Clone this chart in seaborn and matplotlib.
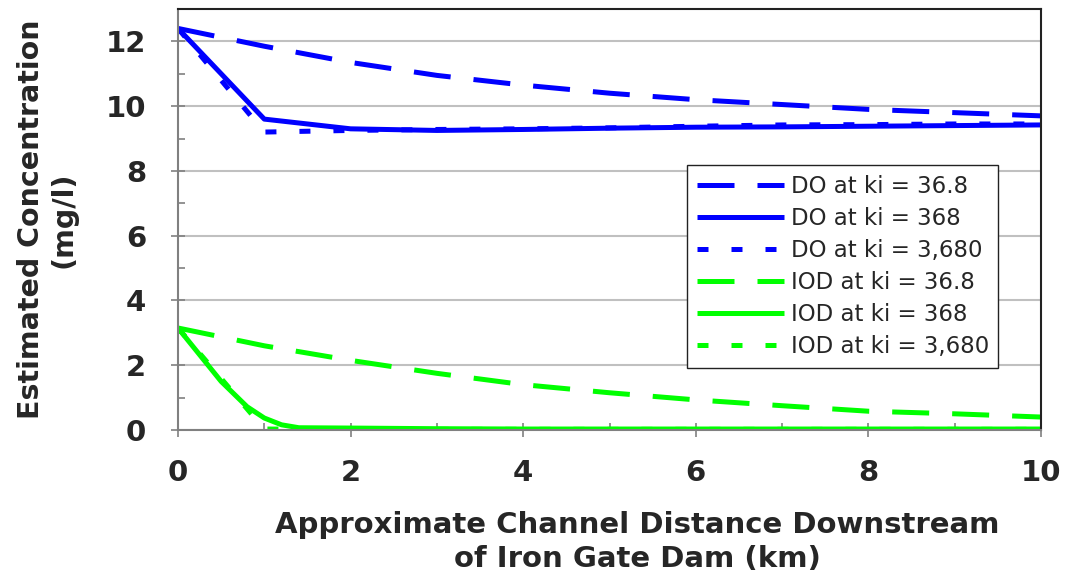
import matplotlib
matplotlib.use("Agg")
import matplotlib.pyplot as plt
import seaborn as sns
import pandas as pd
from matplotlib.ticker import MultipleLocator

sns.set_theme(style="white")
plt.rcParams['font.family'] = ['DejaVu Sans']

# ---- data ----
x_main = [0, 1, 2, 3, 4, 5, 6, 7, 8, 9, 10]
do_368_low = [12.4, 11.85, 11.35, 10.95, 10.65, 10.4, 10.2, 10.05, 9.9, 9.8, 9.7]        # DO at ki = 36.8
do_368 = [12.4, 9.6, 9.3, 9.25, 9.28, 9.32, 9.35, 9.36, 9.38, 9.4, 9.42]                 # DO at ki = 368
do_3680 = [12.4, 9.2, 9.25, 9.28, 9.3, 9.33, 9.38, 9.42, 9.43, 9.45, 9.45]                # DO at ki = 3,680
iod_368_low = [3.15, 2.6, 2.15, 1.75, 1.4, 1.15, 0.93, 0.75, 0.58, 0.5, 0.4]             # IOD at ki = 36.8
x_iod_368 = [0, 0.5, 0.8, 1.0, 1.2, 1.4, 2, 3, 4, 5, 6, 7, 8, 9, 10]
iod_368 = [3.15, 1.5, 0.72, 0.37, 0.16, 0.07, 0.06, 0.04, 0.03, 0.03, 0.03, 0.03, 0.03, 0.03, 0.03]
x_iod_3680 = [0, 1, 2, 3, 4, 5, 6, 7, 8, 9, 10]
iod_3680 = [3.15, 0.03, 0.02, 0.02, 0.02, 0.02, 0.02, 0.02, 0.02, 0.02, 0.02]

labels = ["DO at ki = 36.8", "DO at ki = 368", "DO at ki = 3,680",
          "IOD at ki = 36.8", "IOD at ki = 368", "IOD at ki = 3,680"]

BLUE = "#0000FF"
GREEN = "#00FF00"
LONG = (0, (7.4, 4.6))
SHORT = (0, (2.2, 4.6))

series = [
    (x_main, do_368_low, BLUE, LONG),
    (x_main, do_368, BLUE, "-"),
    (x_main, do_3680, BLUE, SHORT),
    (x_main, iod_368_low, GREEN, LONG),
    (x_iod_368, iod_368, GREEN, "-"),
    (x_iod_3680, iod_3680, GREEN, SHORT),
]

fig = plt.figure(figsize=(10.65, 5.79), dpi=100)
ax = fig.add_axes([178/1065, 1-430/579, (1041-178)/1065, (430-9)/579])

for (xs, ys, col, ls), lab in zip(series, labels):
    df = pd.DataFrame({"x": xs, "y": ys})
    sns.lineplot(data=df, x="x", y="y", ax=ax, color=col, linewidth=3.6,
                 linestyle=ls, label=lab, sort=False, estimator=None,
                 solid_capstyle="butt", dash_capstyle="butt")

ax.set_xlim(0, 10)
ax.set_ylim(0, 13)
ax.xaxis.set_major_locator(MultipleLocator(2))
ax.xaxis.set_minor_locator(MultipleLocator(1))
ax.yaxis.set_minor_locator(MultipleLocator(1))
ax.set_yticks([0, 2, 4, 6, 8, 10, 12])
ax.grid(axis="y", which="major", color="#c0c0c0", linewidth=1.5)
ax.grid(axis="x", visible=False)
ax.set_axisbelow(True)

for s in ["left", "bottom"]:
    ax.spines[s].set_color("#808080")
    ax.spines[s].set_linewidth(1.5)
for s in ["top", "right"]:
    ax.spines[s].set_color("#222222")
    ax.spines[s].set_linewidth(1.5)

ax.tick_params(axis="both", which="major", direction="inout", length=10, width=1.2,
               color="#808080", labelsize=21, pad=16)
ax.tick_params(axis="both", which="minor", direction="in", length=5, width=1.2,
               color="#808080")
ax.tick_params(axis="y", which="major", pad=18)
ax.tick_params(bottom=True, left=True, which="both")
for lbl in ax.get_xticklabels() + ax.get_yticklabels():
    lbl.set_fontweight("bold")

ax.set_xlabel("Approximate Channel Distance Downstream\nof Iron Gate Dam (km)",
              fontsize=21, fontweight="bold", linespacing=1.28)
ax.xaxis.set_label_coords(0.532, -0.193)
ax.set_ylabel("Estimated Concentration\n(mg/l)", fontsize=20.5, fontweight="bold",
              linespacing=1.2)
ax.yaxis.set_label_coords(-0.117, 0.5)

leg = ax.legend(loc="upper left", bbox_to_anchor=((687-178)/863, (430-165)/421),
                fontsize=16.5, frameon=True, fancybox=False, handlelength=3.8,
                handletextpad=0.3, labelspacing=0.4, borderpad=0.42,
                borderaxespad=0)
leg.get_frame().set_edgecolor("#222222")
leg.get_frame().set_linewidth(1.0)
leg.get_frame().set_alpha(1)

fig.savefig("out.png", dpi=100)
